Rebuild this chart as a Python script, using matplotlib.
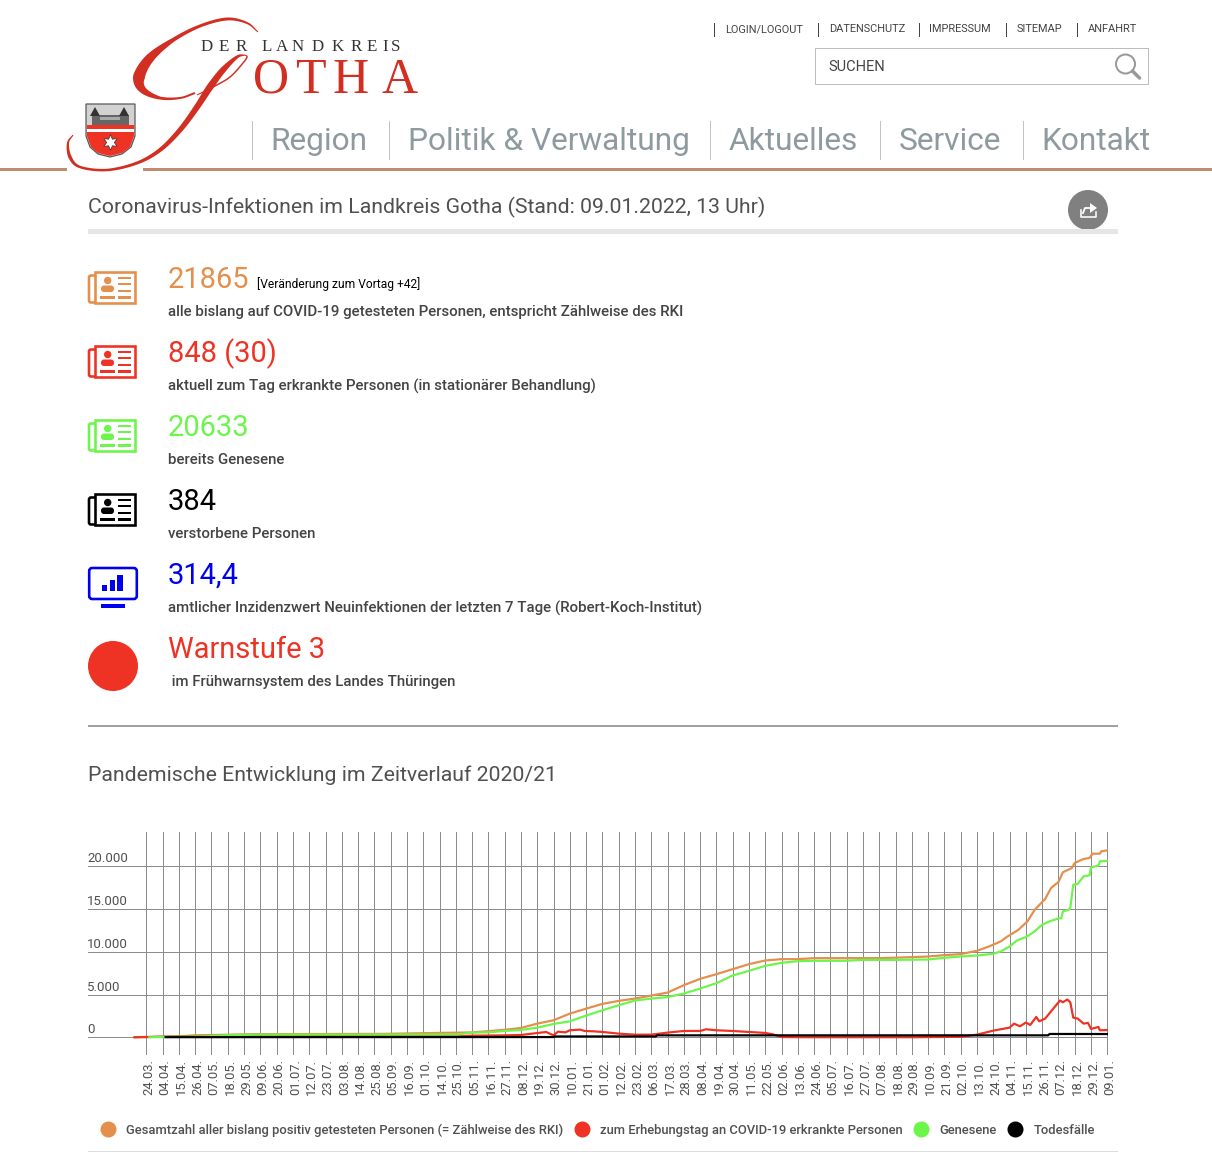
#!/usr/bin/python
# Landkreis Gotha corona page: header, key figures and the development chart

import matplotlib
matplotlib.use("Agg")
from matplotlib import pyplot as plt
from matplotlib.lines import Line2D
from matplotlib.patches import Circle, FancyBboxPatch, Polygon, Rectangle
from matplotlib.transforms import ScaledTranslation
import numpy as np

# chart data, x = running number of the reporting day (11 days per tick label)
tick_labels = ["24.03.", "04.04.", "15.04.", "26.04.", "07.05.", "18.05.", "29.05.", "09.06.",
               "20.06.", "01.07.", "12.07.", "23.07.", "03.08.", "14.08.", "25.08.", "05.09.",
               "16.09.", "01.10.", "14.10.", "25.10.", "05.11.", "16.11.", "27.11.", "08.12.",
               "19.12.", "30.12.", "10.01.", "21.01.", "01.02.", "12.02.", "23.02.", "06.03.",
               "17.03.", "28.03.", "08.04.", "19.04.", "30.04.", "11.05.", "22.05.", "02.06.",
               "13.06.", "24.06.", "05.07.", "16.07.", "27.07.", "07.08.", "18.08.", "29.08.",
               "10.09.", "21.09.", "02.10.", "13.10.", "24.10.", "04.11.", "15.11.", "26.11.",
               "07.12.", "18.12.", "29.12.", "09.01."]
y_ticks = [0, 5000, 10000, 15000, 20000]
y_tick_labels = ["0", "5.000", "10.000", "15.000", "20.000"]

total_x = [-8, 20, 32, 52, 72, 160, 200, 220, 231, 242, 253, 264, 275, 286, 297, 308, 319, 330,
           341, 352, 363, 374, 385, 396, 407, 418, 429, 440, 451, 495, 517, 528, 539, 550, 561,
           569, 577, 581, 589, 595, 600, 607, 611, 616, 619, 625, 627, 633, 637, 639, 644, 645,
           649]
total_y = [5, 100, 220, 290, 370, 400, 520, 570, 720, 880, 1090, 1600, 1990, 2770, 3350, 3906,
           4258, 4531, 4883, 5234, 6094, 6836, 7383, 7969, 8555, 8984, 9140, 9140, 9258, 9258,
           9375, 9453, 9610, 9727, 10120, 10620, 11210, 11720, 12580, 13550, 14920, 16170,
           17460, 18160, 19300, 19800, 20390, 20860, 20975, 21480, 21480, 21760, 21865]

ill_x = [-8, 20, 32, 214, 219, 242, 253, 264, 270, 275, 278, 283, 286, 293, 296, 302, 308, 319,
         330, 341, 352, 363, 374, 378, 385, 396, 407, 418, 423, 429, 443, 520, 550, 561, 572,
         583, 586, 590, 594, 597, 601, 603, 607, 617, 619, 622, 624, 626, 629, 633, 636, 638,
         643, 644, 649]
ill_y = [5, 100, 150, 130, 190, 230, 270, 500, 620, 230, 660, 580, 820, 900, 740, 700, 625, 430,
         310, 310, 550, 740, 740, 940, 820, 740, 625, 510, 350, 30, 10, 10, 60, 310, 780, 1130,
         1600, 1290, 1720, 1450, 2380, 1870, 2190, 4300, 4100, 4420, 4100, 2300, 2190, 1600,
         1680, 980, 1210, 820, 848]

recovered_x = [2, 40, 55, 74, 210, 220, 231, 242, 253, 264, 275, 286, 297, 308, 319, 330, 341,
               352, 363, 374, 385, 396, 407, 418, 429, 440, 451, 473, 484, 506, 528, 539, 550,
               561, 572, 577, 583, 588, 594, 599, 605, 610, 616, 618, 619, 623, 624, 626, 629,
               633, 637, 638, 643, 644, 649]
recovered_y = [5, 120, 240, 310, 330, 550, 580, 740, 860, 1130, 1560, 1870, 2540, 3160, 3750,
               4300, 4530, 4700, 5120, 5700, 6330, 7230, 7770, 8360, 8710, 8900, 8950, 8950,
               9060, 9060, 9100, 9300, 9450, 9570, 9765, 10040, 10620, 11330, 11720, 12270,
               13170, 13560, 13900, 13945, 14725, 14920, 15116, 17850, 17930, 18830, 18940,
               19880, 20080, 20580, 20633]

deaths_x = [13, 275, 276, 344, 345, 609, 610, 649]
deaths_y = [15, 30, 100, 100, 230, 230, 390, 384]

orange = "#E48F4B"
red = "#EE3224"
green = "#6CF54A"
blue = "#0000F0"
gray_text = "#505050"
nav_gray = "#8F9A9F"
gotha_red = "#D22E22"

W, H = 1212, 1159


def px(size):
    # font size / line width given in pixels at dpi 100
    return size * 0.72


def smooth(points, widths, n=14):
    # catmull-rom through the points, widths interpolated along it -> closed outline
    p = np.array(points, float)
    p = np.vstack([2*p[0]-p[1], p, 2*p[-1]-p[-2]])
    t = np.linspace(0, 1, n, endpoint=False)[:, None]
    curve = []
    for i in range(1, len(p)-2):
        curve.append(0.5*(2*p[i] + (p[i+1]-p[i-1])*t + (2*p[i-1]-5*p[i]+4*p[i+1]-p[i+2])*t**2
                          + (3*p[i]-p[i-1]-3*p[i+1]+p[i+2])*t**3))
    curve = np.vstack(curve + [p[-2][None, :]])
    w = np.interp(np.linspace(0, len(points)-1, len(curve)), np.arange(len(points)), widths)
    d = np.gradient(curve, axis=0)
    nrm = np.column_stack([-d[:, 1], d[:, 0]]) / np.hypot(d[:, 0], d[:, 1])[:, None]
    return np.vstack([curve + nrm*w[:, None]/2, (curve - nrm*w[:, None]/2)[::-1]])


fig = plt.figure(figsize=(W/100, H/100), dpi=100, facecolor="white")
plt.rcParams["font.family"] = ["Roboto", "DejaVu Sans"]

# page layer in pixel coordinates
page = fig.add_axes([0, 0, 1, 1])
page.set_xlim(0, W)
page.set_ylim(H, 0)
page.axis("off")


def txt(x, y, s, size, color=gray_text, **kw):
    kw.setdefault("va", "center")
    page.text(x, y, s, fontsize=px(size), color=color, **kw)


def rect(x0, y0, x1, y1, color, **kw):
    page.add_patch(Rectangle((x0, y0), x1-x0, y1-y0, facecolor=color, edgecolor="none", **kw))


# logo
bowl = [(258, 32), (247, 23), (227, 19), (200, 26), (173, 40), (150, 58), (139, 77), (143, 90),
        (160, 98), (180, 98), (195, 93)]
page.add_patch(Polygon(smooth(bowl, [1, 2, 3, 3, 4, 9, 12, 7, 3, 2, 2]), color=gotha_red, lw=0))
stem = [(245, 55), (237, 57), (223, 70), (210, 87), (197, 107), (180, 130), (160, 150), (137, 163),
        (107, 170), (80, 167), (70, 157), (68, 143), (73, 135)]
page.add_patch(Polygon(smooth(stem, [1, 3, 6, 7, 6, 5, 4, 3, 2.5, 2.5, 3.5, 2, 1]), color=gotha_red, lw=0))
hook = [(245, 55), (247, 57), (243, 63), (230, 77), (213, 87), (197, 95)]
page.add_patch(Polygon(smooth(hook, [1, 1.5, 1.5, 1.5, 1.5, 1]), color=gotha_red, lw=0))

for x, c in zip([200.7, 219, 235.7, 261.7, 275.7, 292, 312, 332, 350.7, 367, 382, 391], "DERLANDKREIS"):
    txt(x, 50.7, c, 17, "#333333", family="Liberation Serif", va="baseline")
for x, c in zip([253, 295, 332, 382], "OTHA"):
    txt(x, 92.7, c, 50, gotha_red, family="Liberation Serif", va="baseline")

# coat of arms
shield = [(86, 104), (135, 104), (135, 136), (131, 147), (122, 154), (110, 157), (98, 154),
          (90, 147), (86, 136)]
page.add_patch(Polygon(shield, facecolor="#D2D2D2", edgecolor="#555555", lw=px(1.2)))
page.add_patch(Polygon([(87, 125), (134, 125), (134, 136), (130, 147), (122, 153), (110, 156),
                        (98, 153), (91, 147), (87, 136)], facecolor=red, edgecolor="none"))
rect(92, 115, 129, 125, "#666666")
rect(87, 129, 134, 132, "white")
page.add_patch(Polygon([(90, 116), (95, 107), (100, 116)], color="#333333", lw=0))
page.add_patch(Polygon([(119, 116), (124, 107), (129, 116)], color="#333333", lw=0))
rect(100, 117, 120, 120, "#AAAAAA")
page.plot([110], [142], marker=(6, 1, 0), ms=11, color="white", mec="#333333", mew=0.5)

# rule under the header, cut where the logo swash crosses it
rect(0, 168, 67, 171, "#BC8D6E")
rect(143, 168, W, 171, "#BC8D6E")

# top links and search
for x in [714, 818, 919, 1006, 1077]:
    page.plot([x, x], [23, 36], color="#444444", lw=px(1))
top_links = ["LOGIN/LOGOUT", "DATENSCHUTZ", "IMPRESSUM", "SITEMAP", "ANFAHRT"]
for x, s in zip([725, 829, 929, 1017, 1088], top_links):
    txt(x, 29.5, s, 11, "#444444")
page.add_patch(Rectangle((815, 48), 333, 36, facecolor="white", edgecolor="#BDBDBD", lw=px(1)))
txt(828, 67, "SUCHEN", 14.6, "#444444")
page.add_patch(Circle((1125.5, 64), 9.5, facecolor="none", edgecolor="#999999", lw=px(2)))
page.plot([1132.5, 1139.5], [71, 78], color="#999999", lw=px(3.5), solid_capstyle="round")

# navigation
for x in [252, 389, 710, 880, 1023]:
    page.plot([x, x], [121, 159], color="#C4C4C4", lw=px(1))
nav = ["Region", "Politik & Verwaltung", "Aktuelles", "Service", "Kontakt"]
for x, s in zip([270.5, 407.5, 728.5, 898.5, 1041.5], nav):
    txt(x, 141, s, 31.7, nav_gray)

# heading
txt(88, 207, "Coronavirus-Infektionen im Landkreis Gotha (Stand: 09.01.2022, 13 Uhr)", 21.3)
page.add_patch(Circle((1088, 210), 20, color="#808080", lw=0))
page.plot([1081, 1081, 1096, 1096], [210, 217, 217, 212], color="white", lw=px(1.6))
page.plot([1083, 1085, 1091], [213, 208, 208], color="white", lw=px(1.8))
page.add_patch(Polygon([(1090, 203), (1097, 208), (1090, 213)], color="white", lw=0))
rect(88, 229, 1118, 234, "#E6E6E6")


def news_icon(y, color):
    # y = top of the front page
    page.add_patch(FancyBboxPatch((89, y+4.5), 8, 27, boxstyle="round,pad=0,rounding_size=2",
                                  facecolor="white", edgecolor=color, lw=px(2.6)))
    page.add_patch(Rectangle((94.5, y+1.2), 40.7, 30.3, facecolor="white", edgecolor=color, lw=px(2.6)))
    page.add_patch(Circle((107.7, y+9.5), 3.7, color=color, lw=0))
    page.add_patch(FancyBboxPatch((101, y+14.5), 13, 6.5, boxstyle="round,pad=0,rounding_size=3",
                                  facecolor=color, edgecolor="none"))
    for yy in [y+7, y+13, y+20]:
        rect(118, yy-1.2, 131, yy+1.2, color)
    rect(100, y+25, 115, y+27.5, color)
    rect(118, y+25, 131, y+27.5, color)


# key figures
numbers = ["21865", "848 (30)", "20633", "384", "314,4", "Warnstufe 3"]
number_colors = [orange, red, green, "black", blue, red]
captions = ["alle bislang auf COVID-19 getesteten Personen, entspricht Zählweise des RKI",
            "aktuell zum Tag erkrankte Personen (in stationärer Behandlung)",
            "bereits Genesene",
            "verstorbene Personen",
            "amtlicher Inzidenzwert Neuinfektionen der letzten 7 Tage (Robert-Koch-Institut)",
            " im Frühwarnsystem des Landes Thüringen"]
for i in range(6):
    txt(168, 280 + i*74, numbers[i], 29, number_colors[i])
    txt(168, 312 + i*74, captions[i], 15, "#444444", fontweight="medium")
txt(257, 284, "[Veränderung zum Vortag +42]", 12, "black")
for i in range(4):
    news_icon(271 + i*74, number_colors[i])

# monitor icon and warning dot
page.add_patch(FancyBboxPatch((89.2, 568), 47.6, 31, boxstyle="round,pad=0,rounding_size=3",
                              facecolor="white", edgecolor=blue, lw=px(2.6)))
rect(102, 585, 107, 591, blue)
rect(110, 580, 115, 591, blue)
rect(117, 575, 123, 591, blue)
rect(101, 604, 125, 608, blue)
page.add_patch(Circle((113, 666), 25, color=red, lw=0))

rect(88, 725, 1118, 727, "#A0A0A0")
txt(88, 775, "Pandemische Entwicklung im Zeitverlauf 2020/21", 21.3)
rect(88, 1151, 1118, 1152, "#DDDDDD")

# chart
axis = fig.add_axes([88/W, (H-1055)/H, (1107.6-88)/W, (1055-832)/H])
axis.patch.set_alpha(0)
axis.set_xlim(-39.4, 649.2)
axis.set_ylim(-2070, 24012)
for spine in axis.spines.values():
    spine.set_visible(False)

axis.set_xticks(np.arange(len(tick_labels))*11)
axis.set_xticklabels(tick_labels, rotation=90, fontsize=px(13), color=gray_text)
axis.set_yticks(y_ticks)
axis.set_yticklabels(y_tick_labels, fontsize=px(13.3), color=gray_text)
axis.tick_params(axis="both", length=0)
axis.tick_params(axis="x", pad=px(4))
axis.tick_params(axis="y", pad=px(1))
axis.grid(True, color="#8C8C8C", lw=px(1))
axis.set_axisbelow(True)
shift = ScaledTranslation(0, 1/100, fig.dpi_scale_trans)
for label in axis.get_yticklabels():
    label.set_ha("left")
    label.set_va("bottom")
    label.set_transform(label.get_transform() + shift)
xshift = ScaledTranslation(2.5/100, 0, fig.dpi_scale_trans)
for label in axis.get_xticklabels():
    label.set_transform(label.get_transform() + xshift)

axis.plot(total_x, total_y, color=orange, lw=px(2.2), solid_joinstyle="round")
axis.plot(ill_x, ill_y, color=red, lw=px(2.2), solid_joinstyle="round")
axis.plot(recovered_x, recovered_y, color=green, lw=px(2.2), solid_joinstyle="round")
axis.plot(deaths_x, deaths_y, color="black", lw=px(2.2), solid_joinstyle="round")

series_names = ["Gesamtzahl aller bislang positiv getesteten Personen (= Zählweise des RKI)",
                "zum Erhebungstag an COVID-19 erkrankte Personen", "Genesene", "Todesfälle"]
series_colors = [orange, red, green, "black"]
handles = [Line2D([], [], ls="", marker="o", ms=px(16), mew=0, color=c) for c in series_colors]
legend = fig.legend(handles, series_names, ncol=4, frameon=False, loc="center",
                    bbox_to_anchor=(598/W, (H-1130)/H), prop={"size": px(13), "weight": "medium"},
                    handlelength=1, handletextpad=0.93, columnspacing=0.9, borderpad=0)
for text in legend.get_texts():
    text.set_color(gray_text)

plt.savefig("out.png", dpi=100)
